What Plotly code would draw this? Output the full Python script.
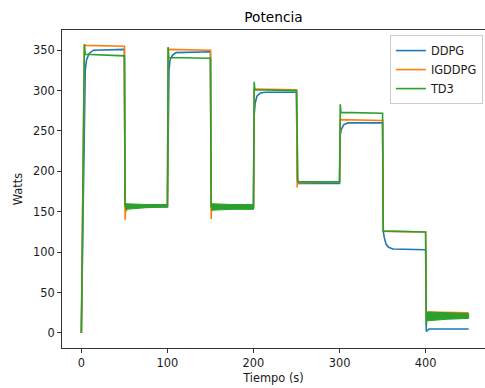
import plotly.graph_objects as go

# ---- data (time in s, power in W) ----
ddpg_t = [0, 3.5, 4.5, 6, 9, 14, 50,
          50.8, 52, 100,
          100.8, 101.8, 103, 106, 110, 150,
          150.8, 152, 200,
          200.8, 202, 204, 208, 214, 250,
          250.8, 252, 300,
          300.8, 302, 305, 310, 350,
          350.8, 352, 354, 357, 362, 400,
          400.8, 402, 404, 450]
ddpg_w = [0, 300, 325, 338, 346, 350, 351,
          162, 157, 156,
          300, 325, 338, 344, 347, 348,
          160, 155, 155,
          270, 285, 293, 297, 298, 298,
          190, 185, 185,
          245, 252, 258, 260, 260,
          126, 118, 110, 106, 104, 103,
          2, 3, 5, 5]

igddpg_t = [0, 3.5, 5, 50,
            50.8, 51.5, 52.3, 53, 54, 100,
            100.8, 150,
            150.8, 151.5, 152.3, 153, 154, 200,
            200.8, 250,
            250.8, 251.5, 252.5, 300,
            300.8, 350,
            350.8, 400,
            400.8, 401.6, 402.5, 403.5, 450]
igddpg_w = [0, 357, 356, 355,
            140, 160, 150, 158, 156, 157,
            351, 350,
            141, 160, 151, 158, 156, 156,
            302, 301,
            180, 190, 186, 187,
            264, 263,
            126, 125,
            18, 26, 21, 26, 25]

td3_t = [0, 3.5, 4.5, 50,
         50.8, 100,
         100.8, 101.6, 150,
         150.8, 200,
         200.8, 201.6, 250,
         250.8, 251.6, 300,
         300.8, 301.6, 350,
         350.8, 400,
         400.8, 401.6, 450]
td3_w = [0, 357, 345, 343,
         157, 157,
         354, 341, 340,
         156, 156,
         311, 301, 300,
         193, 187, 187,
         283, 273, 272,
         126, 125,
         9, 21, 21]

# TD3 oscillation envelopes (upper / lower bounds of the dense band)
td3_band1_t = [51, 75, 100]
td3_band1_hi = [160, 159, 159]
td3_band1_lo = [153, 155, 156]
td3_band2_t = [151, 175, 200]
td3_band2_hi = [160, 159, 159]
td3_band2_lo = [152, 153, 153]
td3_band3_t = [401, 425, 450]
td3_band3_hi = [26, 25, 24]
td3_band3_lo = [15, 17, 18]

x_ticks = [0, 100, 200, 300, 400]
y_ticks = [0, 50, 100, 150, 200, 250, 300, 350]

C_BLUE, C_ORANGE, C_GREEN = "#1f77b4", "#ff7f0e", "#2ca02c"
LW = 1.6
FONT = "DejaVu Sans"
TXT = "#1a1a1a"

fig = go.Figure()
fig.add_trace(go.Scatter(x=ddpg_t, y=ddpg_w, mode="lines", name="DDPG",
                         line=dict(color=C_BLUE, width=LW)))
fig.add_trace(go.Scatter(x=igddpg_t, y=igddpg_w, mode="lines", name="IGDDPG",
                         line=dict(color=C_ORANGE, width=LW)))
fig.add_trace(go.Scatter(x=td3_t, y=td3_w, mode="lines", name="TD3",
                         line=dict(color=C_GREEN, width=LW)))
for bt, hi, lo in [(td3_band1_t, td3_band1_hi, td3_band1_lo),
                   (td3_band2_t, td3_band2_hi, td3_band2_lo),
                   (td3_band3_t, td3_band3_hi, td3_band3_lo)]:
    fig.add_trace(go.Scatter(x=bt + bt[::-1], y=hi + lo[::-1], mode="lines",
                             fill="toself", fillcolor=C_GREEN,
                             line=dict(color=C_GREEN, width=1),
                             showlegend=False, hoverinfo="skip"))

axis_common = dict(showgrid=False, zeroline=False, showline=True, mirror=True,
                   linecolor="#333333", linewidth=1, ticks="outside", ticklen=4,
                   tickwidth=1, tickcolor="#333333",
                   tickfont=dict(family=FONT, size=11.4, color=TXT))

fig.update_layout(
    width=485, height=388,
    margin=dict(l=62, r=0, t=30, b=40),
    paper_bgcolor="white", plot_bgcolor="white",
    title=dict(text="Potencia", x=0.5, xref="paper", y=1 - 17 / 388,
               yref="container", xanchor="center", yanchor="middle",
               font=dict(family=FONT, size=13.7, color="#000000")),
    xaxis=dict(range=[-22.5, 469], tickvals=x_ticks,
               title=dict(text="Tiempo (s)", standoff=5,
                          font=dict(family=FONT, size=11.4, color=TXT)),
               **axis_common),
    yaxis=dict(range=[-18.6, 375], tickvals=y_ticks,
               title=dict(text="Watts", standoff=7,
                          font=dict(family=FONT, size=11.4, color=TXT)),
               **axis_common),
    legend=dict(x=0.995, y=0.984, xanchor="right", yanchor="top",
                bgcolor="rgba(255,255,255,0.8)", bordercolor="#cccccc", borderwidth=1,
                font=dict(family=FONT, size=11.4, color=TXT),
                tracegroupgap=0, itemwidth=30),
    showlegend=True,
)

fig.write_html("out.html")
